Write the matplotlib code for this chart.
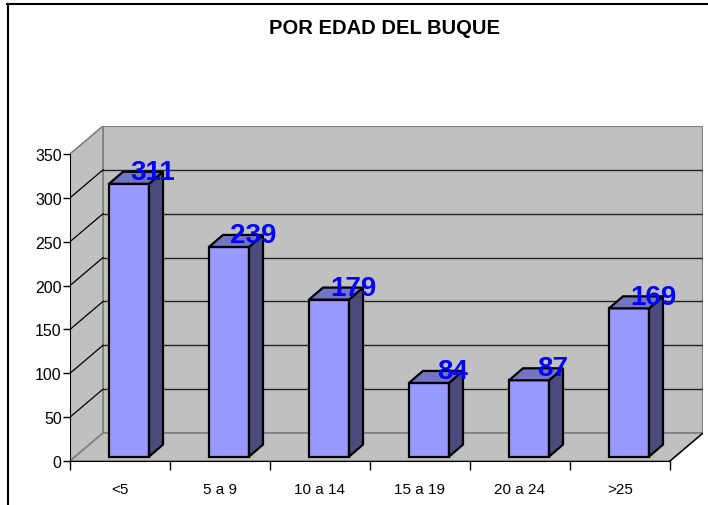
import matplotlib
matplotlib.use("Agg")
import matplotlib.pyplot as plt
from matplotlib.patches import Polygon, Rectangle
from matplotlib.lines import Line2D

categories = ["<5", "5 a 9", "10 a 14", "15 a 19", "20 a 24", ">25"]
values = [311, 239, 179, 84, 87, 169]
yticks = [0, 50, 100, 150, 200, 250, 300, 350]
title = "POR EDAD DEL BUQUE"

FONT = ["Liberation Sans Narrow", "Liberation Sans", "DejaVu Sans"]

W, H = 708, 506
fig = plt.figure(figsize=(W / 100, H / 100), dpi=100)

# 3D depth of the plot box (in data units)
DX, DY = 0.33, 31.9
YMAX = 350
n = len(categories)

ax = fig.add_axes([70 / W, (H - 462) / H, 633 / W, 335 / H])
ax.set_xlim(-0.5, n - 0.5 + DX)
ax.set_ylim(0, YMAX + DY)
ax.patch.set_alpha(0)

wall = "#C0C0C0"
wedge = "#808080"
x0, x1 = -0.5, n - 0.5
# back wall
ax.add_patch(Rectangle((x0 + DX, DY), x1 - x0, YMAX, facecolor=wall,
                       edgecolor=wedge, lw=1.5, zorder=0))
# side wall
ax.add_patch(Polygon([(x0, 0), (x0, YMAX), (x0 + DX, YMAX + DY), (x0 + DX, DY)],
                     closed=True, facecolor=wall, edgecolor=wedge, lw=1.2, zorder=0))
# floor
ax.add_patch(Polygon([(x0, 0), (x1, 0), (x1 + DX, DY), (x0 + DX, DY)],
                     closed=True, facecolor=wall, edgecolor=wedge, lw=1.2, zorder=0))
ax.plot([x1, x1 + DX], [0, DY], color="black", lw=1, zorder=1)

# gridlines
for v in yticks[1:-1]:
    ax.plot([x0 + DX, x1 + DX], [v + DY, v + DY], color="#222222", lw=1, zorder=1)
    ax.plot([x0, x0 + DX], [v, v + DY], color="black", lw=0.9, zorder=1)

# bars
FB = 5.0          # front offset of bars (value units)
BDX, BDY = 0.14, 13.7
BW = 0.4
SHIFT = 0.09
xs = [i + SHIFT for i in range(n)]
ax.bar(xs, values, width=BW, bottom=FB, color="#9999FF", edgecolor="black",
       lw=1.6, zorder=3)
for x, v in zip(xs, values):
    xl, xr = x - BW / 2, x + BW / 2
    top = FB + v
    ax.add_patch(Polygon([(xr, FB), (xr + BDX, FB + BDY), (xr + BDX, top + BDY), (xr, top)],
                         closed=True, facecolor="#4B4B7E", edgecolor="black", lw=1.6, zorder=3))
    ax.add_patch(Polygon([(xl, top), (xr, top), (xr + BDX, top + BDY), (xl + BDX, top + BDY)],
                         closed=True, facecolor="#7474C4", edgecolor="black", lw=1.6, zorder=3))
    ax.text(x + 0.24, top + 5.5, str(v), ha="center", va="baseline", color="#0000FF",
            fontsize=20, fontweight="bold", family=FONT, zorder=5)

# axes spines / ticks
for s in ["top", "right"]:
    ax.spines[s].set_visible(False)
ax.spines["left"].set_bounds(0, YMAX)
ax.spines["bottom"].set_bounds(x0, x1)
ax.spines["left"].set_zorder(2)
ax.spines["bottom"].set_zorder(2)
ax.set_yticks(yticks)
ax.set_yticklabels([str(t) for t in yticks], family=FONT, fontsize=11.5)
ax.tick_params(axis="y", direction="out", length=5, width=1, pad=1)
ax.set_xticks([i - 0.5 for i in range(n + 1)])
ax.set_xticklabels([])
ax.set_xticks(range(n), minor=True)
ax.set_xticklabels(categories, minor=True, family=FONT, fontsize=11)
ax.tick_params(axis="x", which="major", direction="out", length=6.5, width=1)
ax.tick_params(axis="x", which="minor", length=0, pad=15)

fig.text(385 / W, 1 - 28 / H, title, ha="center", va="center", fontsize=14.5,
         fontweight="bold", family=FONT)

# outer frame
fig.add_artist(Line2D([7.5 / W, 7.5 / W], [0, 1 - 5 / H], color="black", lw=1.5))
fig.add_artist(Line2D([7 / W, 1], [1 - 5 / H, 1 - 5 / H], color="black", lw=1.5))

fig.savefig("out.png", dpi=100)
